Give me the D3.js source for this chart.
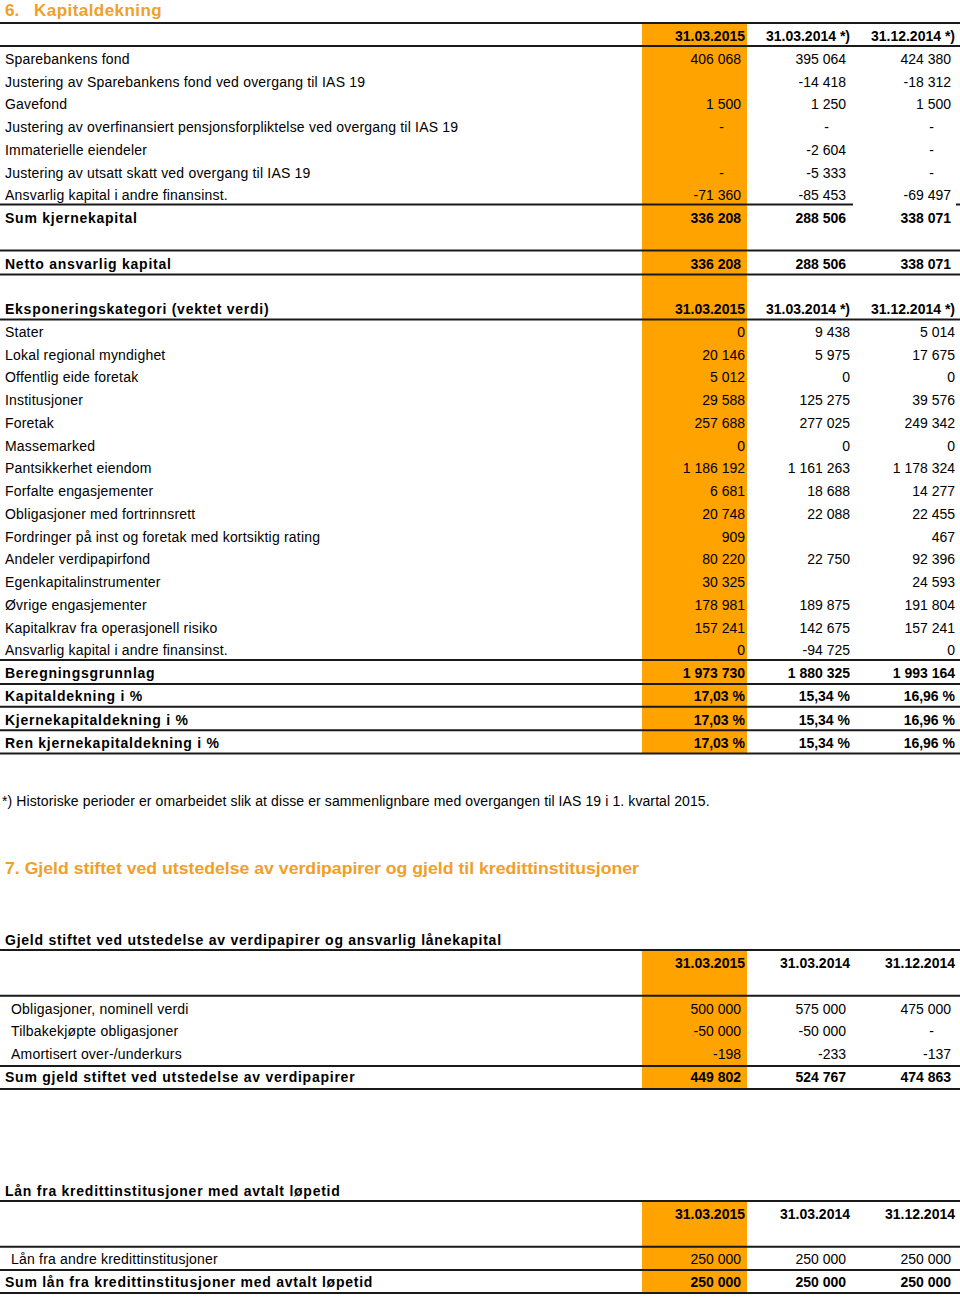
<!DOCTYPE html>
<html>
<head>
<meta charset="utf-8">
<script src="https://cdn.jsdelivr.net/npm/d3@7"></script>
<style>
  body { margin: 0; background: #fff; }
  text { font-family: "Liberation Sans", Arial, sans-serif; fill: #000; }
</style>
</head>
<body>
<div id="chart"></div>
<script>
// column headers
const dates6 = ["31.03.2015", "31.03.2014 *)", "31.12.2014 *)"];
const dates7 = ["31.03.2015", "31.03.2014", "31.12.2014"];

// 6. Kapitaldekning - kjernekapital
const kapitalLabels = [
  "Sparebankens fond",
  "Justering av Sparebankens fond ved overgang til IAS 19",
  "Gavefond",
  "Justering av overfinansiert pensjonsforpliktelse ved overgang til IAS 19",
  "Immaterielle eiendeler",
  "Justering av utsatt skatt ved overgang til IAS 19",
  "Ansvarlig kapital i andre finansinst."
];
const kapital2015   = [406068, null, 1500, "-", null, "-", -71360];
const kapital2014q1 = [395064, -14418, 1250, "-", -2604, -5333, -85453];
const kapital2014   = [424380, -18312, 1500, "-", "-", "-", -69497];
const sumKjernekapital = [336208, 288506, 338071];
const nettoAnsvarlig   = [336208, 288506, 338071];

// eksponeringskategorier
const eksLabels = [
  "Stater", "Lokal regional myndighet", "Offentlig eide foretak", "Institusjoner",
  "Foretak", "Massemarked", "Pantsikkerhet eiendom", "Forfalte engasjementer",
  "Obligasjoner med fortrinnsrett", "Fordringer på inst og foretak med kortsiktig rating",
  "Andeler verdipapirfond", "Egenkapitalinstrumenter", "Øvrige engasjementer",
  "Kapitalkrav fra operasjonell risiko", "Ansvarlig kapital i andre finansinst."
];
const eks2015   = [0, 20146, 5012, 29588, 257688, 0, 1186192, 6681, 20748, 909, 80220, 30325, 178981, 157241, 0];
const eks2014q1 = [9438, 5975, 0, 125275, 277025, 0, 1161263, 18688, 22088, null, 22750, null, 189875, 142675, -94725];
const eks2014   = [5014, 17675, 0, 39576, 249342, 0, 1178324, 14277, 22455, 467, 92396, 24593, 191804, 157241, 0];
const beregningsgrunnlag = [1973730, 1880325, 1993164];

const dekningLabels = ["Kapitaldekning i %", "Kjernekapitaldekning i %", "Ren kjernekapitaldekning i %"];
const kapitaldekning       = [17.03, 15.34, 16.96];
const kjernekapitaldekn    = [17.03, 15.34, 16.96];
const renKjernekapitaldekn = [17.03, 15.34, 16.96];

// 7. Gjeld
const gjeldLabels = ["Obligasjoner, nominell verdi", "Tilbakekjøpte obligasjoner", "Amortisert over-/underkurs"];
const gjeld2015   = [500000, -50000, -198];
const gjeld2014q1 = [575000, -50000, -233];
const gjeld2014   = [475000, "-", -137];
const sumGjeld    = [449802, 524767, 474863];

const laanLabels = ["Lån fra andre kredittinstitusjoner"];
const laan2015   = [250000];
const laan2014q1 = [250000];
const laan2014   = [250000];
const sumLaan    = [250000, 250000, 250000];

const footnote = "*) Historiske perioder er omarbeidet slik at disse er sammenlignbare med overgangen til IAS 19 i 1. kvartal 2015.";

const orange = "#FFA300";
const titleColor = "#F0A028";
const lineColor = "#1a1a1a";

const loc = d3.formatLocale({ decimal: ",", thousands: "\u00a0", grouping: [3], currency: ["", ""], minus: "-" });
const fmtInt = loc.format(",d");
const fmtPct = v => loc.format(".2f")(v) + " %";

const svg = d3.select("#chart").append("svg")
    .attr("width", 960)
    .attr("height", 1299);

const xCol = d3.scalePoint().domain([0, 1, 2]).range([745, 955]);

const y6  = d3.scaleLinear().domain([0, 28, 31]).range([36, 673, 743]);
const y7a = d3.scaleLinear().domain([0, 5]).range([963, 1077]);
const y7b = d3.scaleLinear().domain([0, 3]).range([1214, 1282]);

const bgLayer = svg.append("g");
const lineLayer = svg.append("g");
const textLayer = svg.append("g");

function hline(y, x0 = 0, x1 = 960) {
  lineLayer.append("line")
    .attr("x1", x0).attr("x2", x1)
    .attr("y1", y).attr("y2", y)
    .attr("stroke", lineColor)
    .attr("stroke-width", 2);
}

function orangeBand(y0, y1) {
  bgLayer.append("rect")
    .attr("x", xCol(0) - 103)
    .attr("y", y0)
    .attr("width", 105)
    .attr("height", y1 - y0)
    .attr("fill", orange);
}

function label(y, txt, bold, x = 5) {
  textLayer.append("text")
    .attr("x", x)
    .attr("y", y + 5)
    .style("font-size", "14px")
    .style("font-weight", bold ? "bold" : "normal")
    .style("letter-spacing", bold ? "0.75px" : "0.2px")
    .text(txt);
}

// vals = [v2015, v2014q1, v2014]; pad = extra right padding (accounting style)
function values(y, vals, opts = {}) {
  const pad = opts.pad || 0;
  const fmt = d => {
    if (opts.raw || d.v === "-") return d.v;
    return opts.pct ? fmtPct(d.v) : fmtInt(d.v);
  };
  textLayer.selectAll(null)
    .data(vals.map((v, i) => ({ v, i })).filter(d => d.v !== null))
    .enter()
    .append("text")
    .attr("x", d => xCol(d.i) - pad - (d.v === "-" ? 17 : 0))
    .attr("y", y + 5)
    .attr("text-anchor", "end")
    .style("font-size", "14px")
    .style("font-weight", opts.bold ? "bold" : "normal")
    .text(fmt);
}

// ---------- 6. Kapitaldekning ----------
svg.append("text")
  .attr("x", 5).attr("y", 16)
  .style("font-size", "17px")
  .style("font-weight", "bold")
  .style("fill", titleColor)
  .text("6.");
svg.append("text")
  .attr("x", 34).attr("y", 16)
  .style("font-size", "17px")
  .style("font-weight", "bold")
  .style("letter-spacing", "0.45px")
  .style("fill", titleColor)
  .text("Kapitaldekning");

orangeBand(y6(0) - 13, y6(31) + 10);
hline(y6(0) - 13);
values(y6(0), dates6, { bold: true, raw: true });
hline(y6(0) + 10);

kapitalLabels.forEach((l, i) => {
  label(y6(i + 1), l, false);
  values(y6(i + 1), [kapital2015[i], kapital2014q1[i], kapital2014[i]], { pad: 4 });
});
hline(y6(8) - 13.5, 0, 853);
hline(y6(8) - 13.5, 956, 960);
label(y6(8), "Sum kjernekapital", true);
values(y6(8), sumKjernekapital, { pad: 4, bold: true });

hline(y6(10) - 13);
label(y6(10), "Netto ansvarlig kapital", true);
values(y6(10), nettoAnsvarlig, { pad: 4, bold: true });
hline(y6(10) + 11);

label(y6(12), "Eksponeringskategori (vektet verdi)", true);
values(y6(12), dates6, { bold: true, raw: true });
hline(y6(12) + 10.5);

eksLabels.forEach((l, i) => {
  label(y6(13 + i), l, false);
  values(y6(13 + i), [eks2015[i], eks2014q1[i], eks2014[i]]);
});

hline(y6(28) - 13);
label(y6(28), "Beregningsgrunnlag", true);
values(y6(28), beregningsgrunnlag, { bold: true });
hline(y6(28) + 11);

[kapitaldekning, kjernekapitaldekn, renKjernekapitaldekn].forEach((arr, i) => {
  label(y6(29 + i), dekningLabels[i], true);
  values(y6(29 + i), arr, { bold: true, pct: true });
  hline(y6(29 + i) + 10.5);
});

svg.append("text")
  .attr("x", 2).attr("y", 806)
  .style("font-size", "14px")
  .style("letter-spacing", "0.1px")
  .text(footnote);

// ---------- 7. Gjeld ----------
svg.append("text")
  .attr("x", 5).attr("y", 874)
  .attr("textLength", 634)
  .attr("lengthAdjust", "spacingAndGlyphs")
  .style("font-size", "17px")
  .style("font-weight", "bold")
  .style("fill", titleColor)
  .text("7. Gjeld stiftet ved utstedelse av verdipapirer og gjeld til kredittinstitusjoner");

label(y7a(-1), "Gjeld stiftet ved utstedelse av verdipapirer og ansvarlig lånekapital", true);
orangeBand(y7a(0) - 13, y7a(5) + 12);
hline(y7a(0) - 13);
values(y7a(0), dates7, { bold: true, raw: true });
hline(y7a(1) + 10);

gjeldLabels.forEach((l, i) => {
  label(y7a(2 + i), l, false, 11);
  values(y7a(2 + i), [gjeld2015[i], gjeld2014q1[i], gjeld2014[i]], { pad: 4 });
});
hline(y7a(5) - 11);
label(y7a(5), "Sum gjeld stiftet ved utstedelse av verdipapirer", true);
values(y7a(5), sumGjeld, { pad: 4, bold: true });
hline(y7a(5) + 12);

label(y7b(-1), "Lån fra kredittinstitusjoner med avtalt løpetid", true);
orangeBand(y7b(0) - 13, y7b(3) + 11);
hline(y7b(0) - 13);
values(y7b(0), dates7, { bold: true, raw: true });
hline(y7b(1) + 10);

laanLabels.forEach((l, i) => {
  label(y7b(2 + i), l, false, 11);
  values(y7b(2 + i), [laan2015[i], laan2014q1[i], laan2014[i]], { pad: 4 });
});
hline(y7b(3) - 12);
label(y7b(3), "Sum lån fra kredittinstitusjoner med avtalt løpetid", true);
values(y7b(3), sumLaan, { pad: 4, bold: true });
hline(y7b(3) + 11);
</script>
</body>
</html>
